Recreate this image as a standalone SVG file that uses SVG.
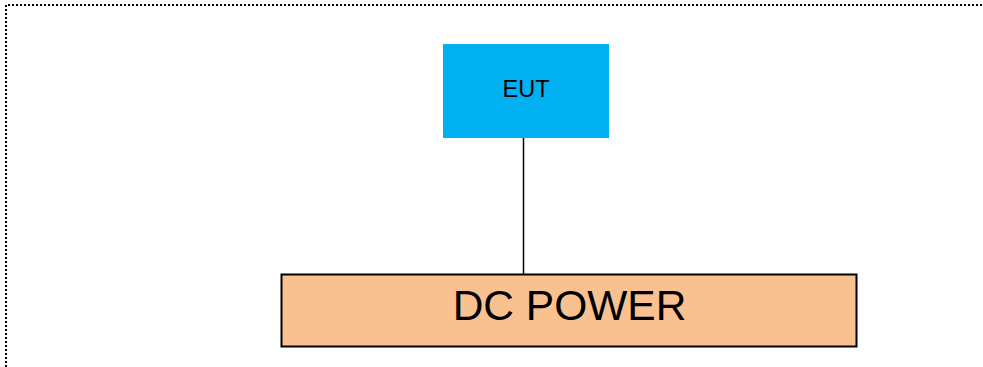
<svg xmlns="http://www.w3.org/2000/svg" width="983" height="367" viewBox="0 0 983 367">
<style>
.frame{fill:none;stroke:#000;stroke-width:2;stroke-dasharray:2 2}
.lbl{font-family:"Liberation Sans",Arial,sans-serif;fill:#000;text-anchor:middle}
</style>
<rect width="983" height="367" fill="#fff"/>
<path class="frame" d="M6,367 V5 H983"/>
<g id="connectors">
<line x1="523.5" y1="138" x2="523.5" y2="274" stroke="#000" stroke-width="1.5"/>
</g>
<g id="eut">
<rect x="443" y="44" width="166" height="94" fill="#00B0F0"/>
<text class="lbl" x="526" y="97" font-size="23.5">EUT</text>
</g>
<g id="dcpower">
<rect x="281.5" y="274.5" width="575" height="72" fill="#F9C090" stroke="#000" stroke-width="2"/>
<text class="lbl" x="569.5" y="319.5" font-size="42.5">DC POWER</text>
</g>
</svg>
